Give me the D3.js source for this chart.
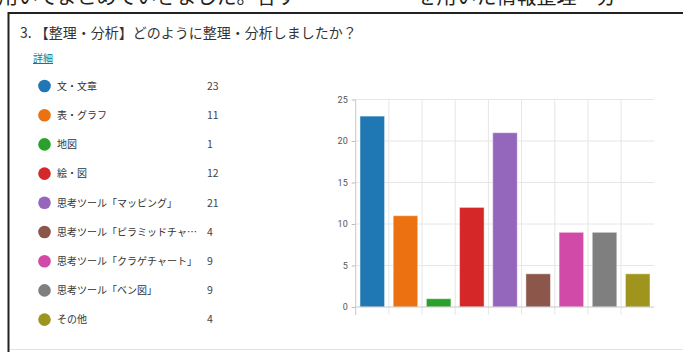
<!DOCTYPE html>
<html lang="ja">
<head>
<meta charset="utf-8">
<script src="https://cdn.jsdelivr.net/npm/d3@7/dist/d3.min.js"></script>
<style>
  html, body { margin: 0; padding: 0; background: #fff; }
  svg { display: block; font-family: "Noto Sans CJK JP", "Noto Sans", sans-serif; }
</style>
</head>
<body>
<svg id="chart" width="683" height="352"></svg>
<script>
// Survey question: how the results were organised and analysed
const categories = [
  "文・文章",
  "表・グラフ",
  "地図",
  "絵・図",
  "思考ツール「マッピング」",
  "思考ツール「ピラミッドチャート」",
  "思考ツール「クラゲチャート」",
  "思考ツール「ベン図」",
  "その他"
];
const counts = [23, 11, 1, 12, 21, 4, 9, 9, 4];
const colors = ["#1f77b4", "#ec7211", "#2ca02c", "#d62728", "#9467bd", "#8c564b", "#d24aa8", "#7f7f7f", "#a0951c"];
const yTicks = [0, 5, 10, 15, 20, 25];

const svg = d3.select("#chart");

// Line of document text running above the card
svg.append("text")
  .attr("x", -2).attr("y", 4)
  .attr("font-size", 20).attr("fill", "#222")
  .text("用いてまとめていきました。各す　　　　　　を用いた情報整理・分");

// Card frame
svg.append("line").attr("x1", 8).attr("x2", 683).attr("y1", 13).attr("y2", 13)
  .attr("stroke", "#222").attr("stroke-width", 2);
svg.append("line").attr("x1", 8.5).attr("x2", 8.5).attr("y1", 12).attr("y2", 352)
  .attr("stroke", "#222").attr("stroke-width", 2);
svg.append("line").attr("x1", 10).attr("x2", 683).attr("y1", 349.5).attr("y2", 349.5)
  .attr("stroke", "#e2e2e2").attr("stroke-width", 1);

// Question title and details link
svg.append("text").attr("x", 20).attr("y", 38)
  .attr("font-size", 14).attr("fill", "#333")
  .text("3.  【整理・分析】どのように整理・分析しましたか？");
svg.append("text").attr("x", 33).attr("y", 62)
  .attr("font-size", 10).attr("fill", "#0f7c85")
  .attr("text-decoration", "underline")
  .text("詳細");

// Legend with counts
const legend = svg.append("g");
const rowY = i => 86 + i * 29.2;
const row = legend.selectAll("g.row").data(categories).join("g")
  .attr("class", "row")
  .attr("transform", (d, i) => `translate(0,${rowY(i)})`);
row.append("circle").attr("cx", 44.5).attr("cy", 0).attr("r", 6.3)
  .attr("fill", (d, i) => colors[i]);
row.append("text").attr("x", 57).attr("y", 3.8)
  .attr("font-size", 10).attr("fill", "#333")
  .text(d => d)
  .each(function () {
    // truncate long labels with an ellipsis
    const maxW = 140;
    const el = d3.select(this);
    let s = el.text();
    while (s.length > 0 && this.getComputedTextLength() > maxW) {
      s = s.slice(0, -1);
      el.text(s + "…");
    }
  });
row.append("text").attr("x", 207).attr("y", 3.8)
  .attr("font-size", 10.5).attr("fill", "#444")
  .text((d, i) => counts[i]);

// Bar chart
const plotLeft = 355.7, plotRight = 654.3, plotTop = 99.5, plotBottom = 307;
const x = d3.scaleBand().domain(categories).range([plotLeft, plotRight])
  .paddingInner(0.26).paddingOuter(0.13);
const y = d3.scaleLinear().domain([0, 25]).range([plotBottom, plotTop]);
const step = x.step();

const plot = svg.append("g");

// horizontal gridlines
plot.selectAll("line.hgrid").data(yTicks.filter(t => t > 0)).join("line")
  .attr("class", "hgrid")
  .attr("x1", plotLeft).attr("x2", plotRight)
  .attr("y1", d => y(d)).attr("y2", d => y(d))
  .attr("stroke", "#e6e6e6").attr("stroke-width", 1);

// vertical gridlines at band boundaries
plot.selectAll("line.vgrid").data(d3.range(1, categories.length)).join("line")
  .attr("class", "vgrid")
  .attr("x1", i => plotLeft + i * step).attr("x2", i => plotLeft + i * step)
  .attr("y1", plotTop).attr("y2", plotBottom + 8)
  .attr("stroke", "#e6e6e6").attr("stroke-width", 1);

// bars
plot.selectAll("rect.bar").data(counts).join("rect")
  .attr("class", "bar")
  .attr("x", (d, i) => x(categories[i]))
  .attr("width", x.bandwidth())
  .attr("y", d => y(d))
  .attr("height", d => y(0) - y(d))
  .attr("fill", (d, i) => colors[i])
  .attr("stroke", "#fff").attr("stroke-opacity", 0.45).attr("stroke-width", 1);

// y axis
const yAxis = d3.axisLeft(y).tickValues(yTicks).tickSize(4).tickPadding(4);
const ya = svg.append("g").attr("transform", `translate(${plotLeft},0)`).call(yAxis);
ya.select(".domain").remove();
ya.selectAll(".tick line").attr("stroke", "#bbb");
ya.selectAll(".tick text").attr("font-size", 9).attr("fill", "#555")
  .attr("font-family", "Roboto, 'Noto Sans', sans-serif");

// axis lines
svg.append("line").attr("x1", plotLeft).attr("x2", plotLeft).attr("y1", plotTop).attr("y2", plotBottom + 8)
  .attr("stroke", "#c8c8c8").attr("stroke-width", 1);
svg.append("line").attr("x1", plotLeft).attr("x2", plotRight).attr("y1", plotBottom).attr("y2", plotBottom)
  .attr("stroke", "#c8c8c8").attr("stroke-width", 1);
</script>
</body>
</html>
